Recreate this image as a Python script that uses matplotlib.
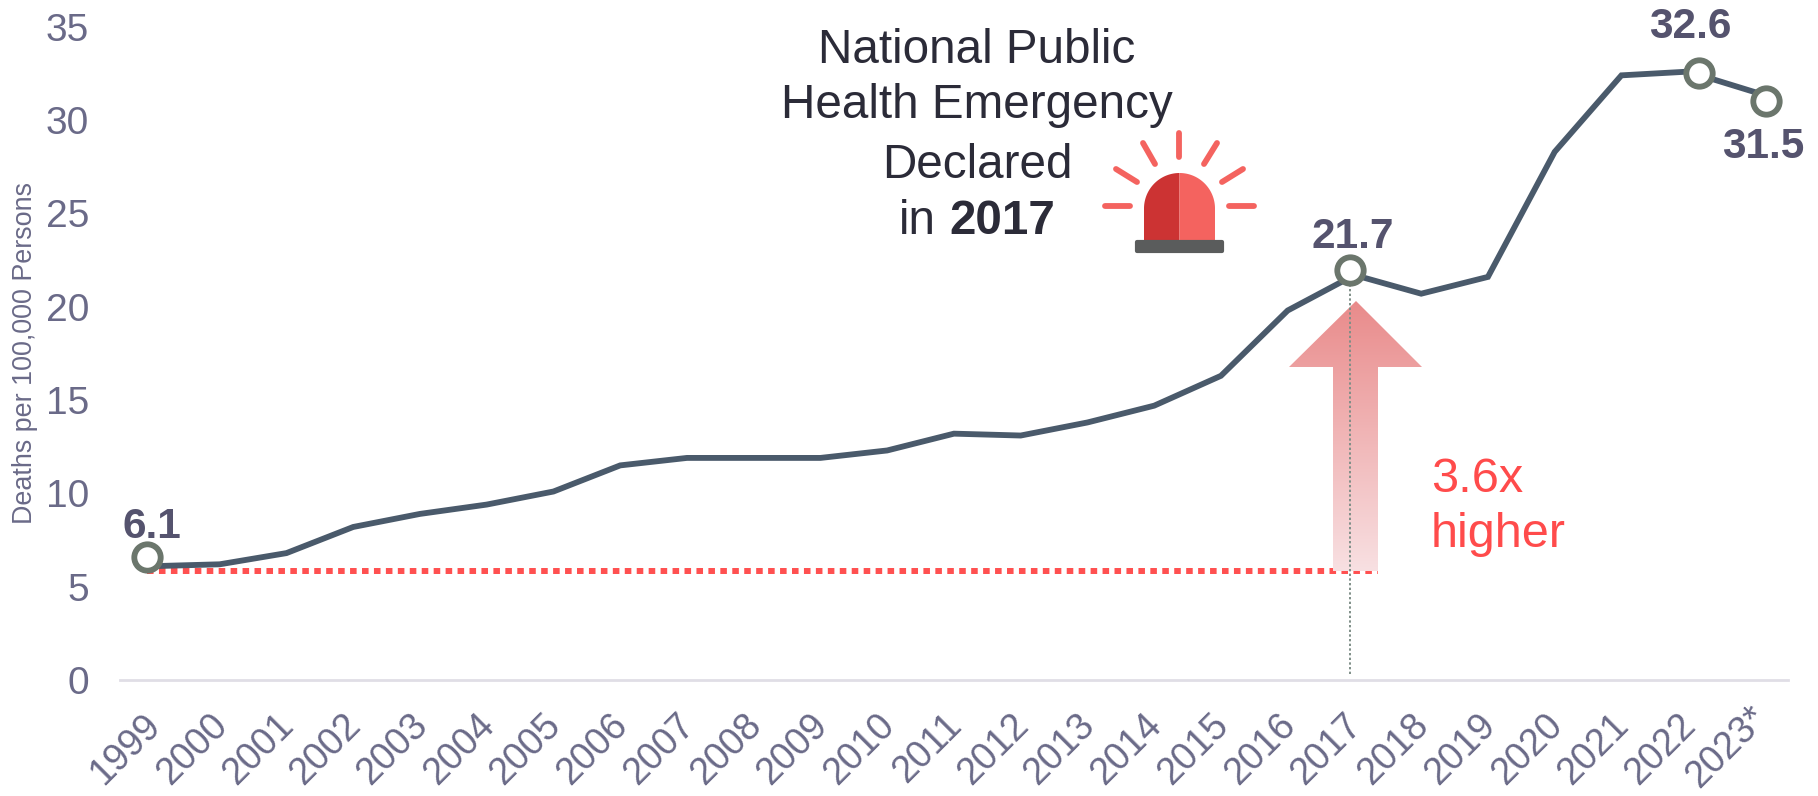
import matplotlib
matplotlib.use("Agg")
import matplotlib.pyplot as plt
import numpy as np
from matplotlib.colors import LinearSegmentedColormap
from matplotlib.path import Path
from matplotlib.transforms import Affine2D, ScaledTranslation

plt.rcParams["font.family"] = ["Liberation Sans", "DejaVu Sans"]

# data
years = list(range(1999, 2024))
year_labels = [str(y) for y in range(1999, 2023)] + ["2023*"]
rates = [6.1, 6.2, 6.8, 8.2, 8.9, 9.4, 10.1, 11.5, 11.9, 11.9, 11.9, 12.3, 13.2,
         13.1, 13.8, 14.7, 16.3, 19.8, 21.7, 20.7, 21.6, 28.3, 32.4, 32.6, 31.5]
y_ticks = [0, 5, 10, 15, 20, 25, 30, 35]

# ring markers sit a little off the line in the original
ring_years = [1998.91, 2016.93, 2022.16, 2023.16]
ring_rates = [6.6, 21.95, 32.5, 31.0]
baseline_rate = 5.85
baseline_end_year = 2017.35

W, H = 1818, 796
fig = plt.figure(figsize=(W / 100, H / 100), dpi=100, facecolor="white")
ax = fig.add_axes([119.6 / W, (H - 680) / H, (1788.3 - 119.6) / W, 679.3 / H])
ax.set_xlim(1998.5, 2023.5)
ax.set_ylim(0, 36.4)
ax.patch.set_alpha(0)

# pixel coordinates for the hand placed things (y going down)
px = Affine2D().scale(1, -1).translate(0, H)

for s in ["top", "right", "left"]:
    ax.spines[s].set_visible(False)
ax.spines["bottom"].set_color("#E0DEE6")
ax.spines["bottom"].set_linewidth(2)

tick_col = "#6A6A88"
ax.set_yticks(y_ticks)
ax.tick_params(axis="y", length=0, pad=22, labelsize=28, labelcolor=tick_col)
ax.set_xticks(years)
ax.set_xticklabels(year_labels)
ax.tick_params(axis="x", length=0, pad=0, labelsize=27, labelcolor=tick_col)
for i, lab in enumerate(ax.get_xticklabels()):
    lab.set_rotation(45)
    lab.set_ha("right")
    lab.set_va("center")
    lab.set_rotation_mode("anchor")
    dx, dy = (2, -40) if i < 24 else (7, -33)
    lab.set_transform(lab.get_transform() + ScaledTranslation(dx / 100, dy / 100, fig.dpi_scale_trans))

fig.text(25 / W, 1 - 353 / H, "Deaths per 100,000 Persons", rotation=90, ha="center",
         va="center", fontsize=19.4, color=tick_col)

# red dotted baseline, under the arrow
ax.plot([ring_years[0], baseline_end_year], [baseline_rate, baseline_rate], color="#FF5050",
        lw=4.3, linestyle=(0, (1.1, 0.9)), dash_capstyle="butt", zorder=2, clip_on=False)

# gradient arrow
arrow_pts = [(1356, 301), (1422, 367), (1378, 367), (1378, 571), (1333, 571),
             (1333, 367), (1289, 367), (1356, 301)]
cmap = LinearSegmentedColormap.from_list("arr", ["#E98B8B", "#F8E0E2"])
im = ax.imshow(np.linspace(0, 1, 256).reshape(-1, 1), cmap=cmap, aspect="auto",
               extent=(1289, 1422, 571, 301), transform=px, zorder=3)
im.set_clip_path(Path(arrow_pts), transform=px)
ax.set_xlim(1998.5, 2023.5)
ax.set_ylim(0, 36.4)

# dotted drop line from the 2017 ring
ax.plot([ring_years[1], ring_years[1]], [0.3, ring_rates[1]], color="#7F8F88", lw=1.4,
        linestyle=(0, (1.2, 1.2)), zorder=4)

ax.plot(years, rates, color="#4A5A6B", lw=4.2, solid_joinstyle="miter", zorder=5, clip_on=False)
ax.plot(ring_years, ring_rates, linestyle="none", marker="o", ms=19, mfc="white",
        mec="#6B766C", mew=4.2, zorder=6, clip_on=False)

# value labels
label_col = "#55536E"
for txt, x, y in [("6.1", 152, 538), ("21.7", 1353, 248), ("32.6", 1690, 38), ("31.5", 1763, 158)]:
    ax.text(x, y, txt, transform=px, ha="center", va="baseline", fontsize=30.5,
            fontweight="bold", color=label_col, clip_on=False, zorder=7)

# heading
head_col = "#2B2B38"
for txt, y in [("National Public", 63), ("Health Emergency", 118), ("Declared", 178)]:
    ax.text(977, y, txt, transform=px, ha="center", va="baseline", fontsize=34.3, color=head_col)
ax.text(899, 234, "in", transform=px, ha="left", va="baseline", fontsize=34.3, color=head_col)
ax.text(949, 234, "2017", transform=px, ha="left", va="baseline", fontsize=34.3,
        fontweight="bold", color=head_col)

# 3.6x higher
ax.text(1431, 492, "3.6x", transform=px, ha="left", va="baseline", fontsize=35, color="#FF4B4B")
ax.text(1431, 547, "higher", transform=px, ha="left", va="baseline", fontsize=35, color="#FF4B4B")

# siren icon
rays = [(1179, 133, 1179, 157), (1143, 143, 1155, 164), (1217, 143, 1204, 164),
        (1116, 169, 1137, 182), (1243, 169, 1222, 182), (1105, 206, 1130, 206),
        (1229, 206, 1254, 206)]
for x0, y0, x1, y1 in rays:
    ax.plot([x0, x1], [y0, y1], color="#F4635F", lw=4.2, solid_capstyle="round", transform=px,
            clip_on=False, zorder=5)
cx, cy, r = 1179.5, 208.5, 35.5
t = np.linspace(np.pi / 2, np.pi, 40)
ax.fill(np.r_[cx + r * np.cos(t), cx - r, cx], np.r_[cy - r * np.sin(t), 240, 240],
        color="#CC3333", transform=px, lw=0, zorder=5)
t = np.linspace(np.pi / 2, 0, 40)
ax.fill(np.r_[cx + r * np.cos(t), cx + r, cx], np.r_[cy - r * np.sin(t), 240, 240],
        color="#F4635F", transform=px, lw=0, zorder=5)
ax.fill([1137, 1222, 1222, 1137], [242, 242, 251, 251], facecolor="#5A5C5C", edgecolor="#5A5C5C",
        lw=3, joinstyle="round", transform=px, zorder=5)
ax.set_xlim(1998.5, 2023.5)
ax.set_ylim(0, 36.4)

fig.savefig("out.png", dpi=100, facecolor="white")
